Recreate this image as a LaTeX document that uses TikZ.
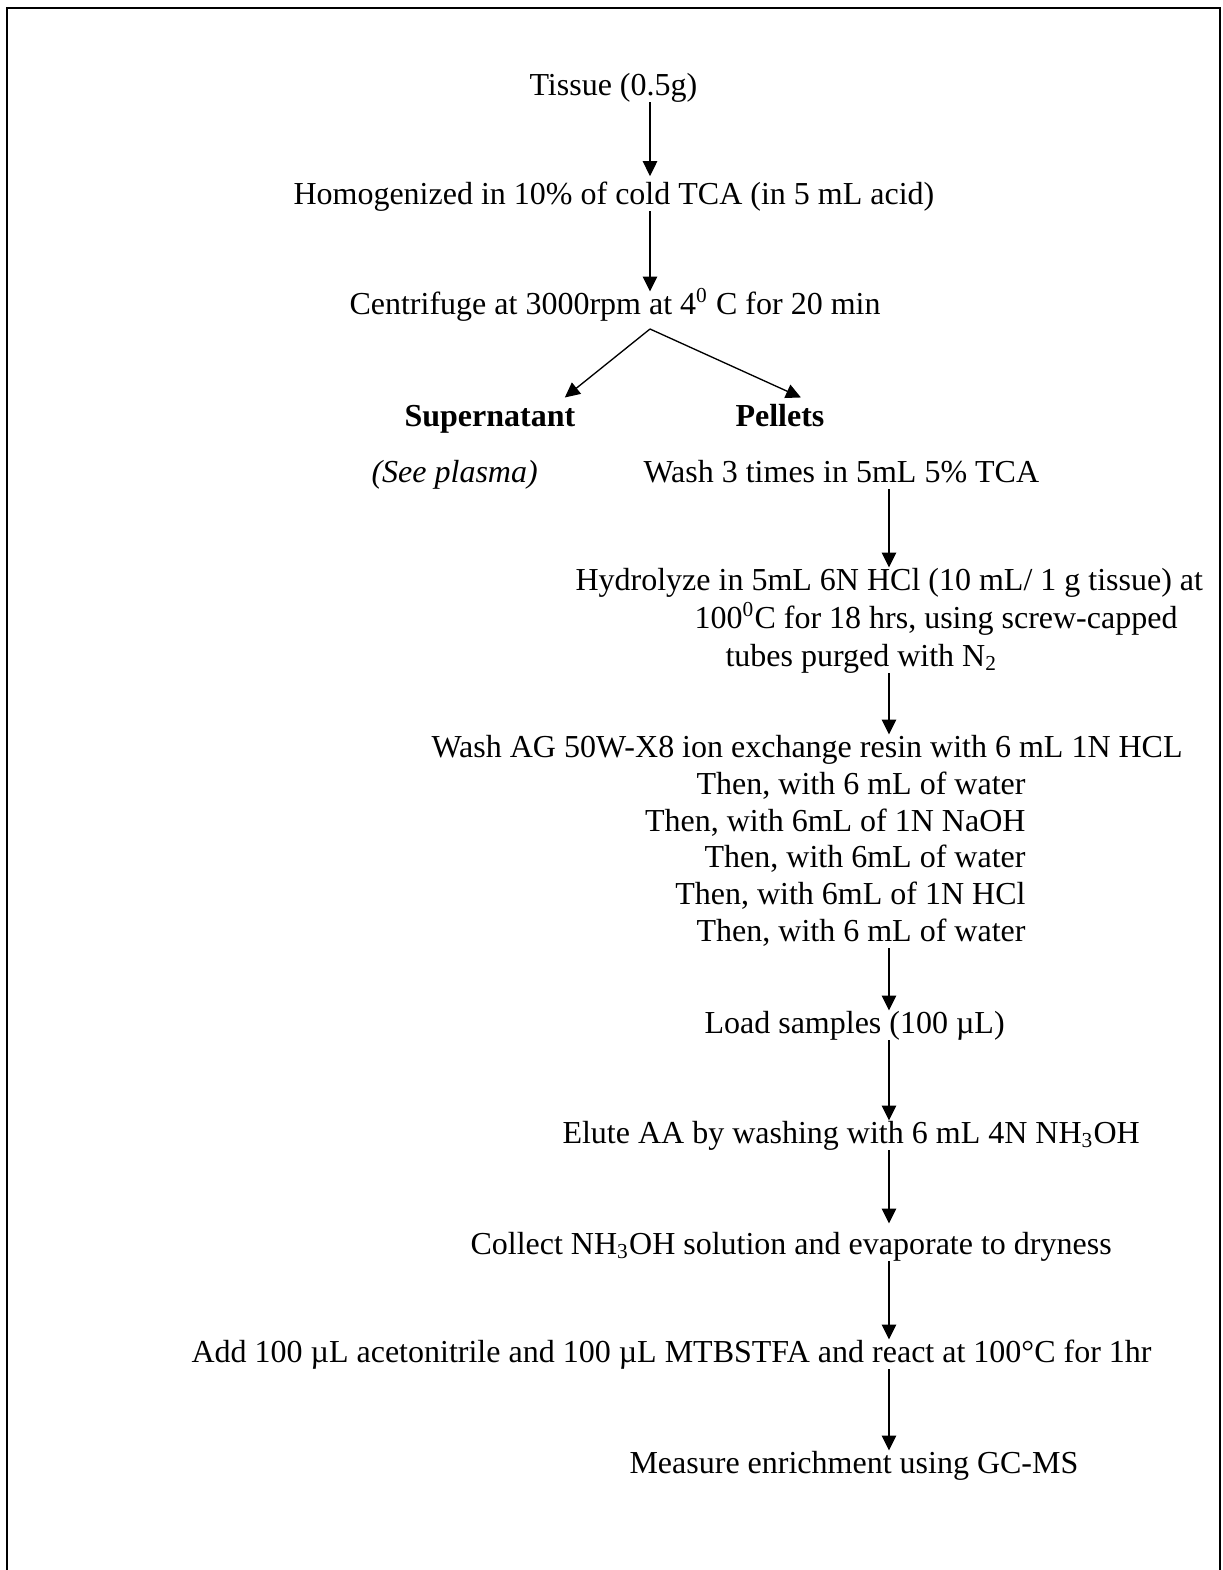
\documentclass[tikz,border=0pt]{standalone}
\usepackage{fontspec}
\setmainfont{Liberation Serif}
\usetikzlibrary{arrows.meta}

\begin{document}
\begin{tikzpicture}[x=0.375pt, y=-0.375pt, >={Triangle[length=5.6pt, width=5.4pt]},
    lbl/.style={anchor=base west, inner sep=0pt, text height=8.25pt, text depth=2.6pt, font=\fontsize{12}{13.8}\selectfont},
    rlbl/.style={lbl, anchor=base east},
    arr/.style={->, line width=0.5pt}]
    \useasboundingbox (0,0) rectangle (1222,1570);
    \draw[line width=1pt] (7,1580) -- (7,8) -- (1220,8) -- (1220,1580);

    % arrow columns
    \coordinate (c1) at (650,0);
    \coordinate (c2) at (889,0);

    \node[lbl] (tissue) at (529,95) {Tissue (0.5g)};
    \node[lbl] (homog) at (293,204) {Homogenized in 10\% of cold TCA (in 5 mL acid)};
    \node[lbl] (centr) at (349,314) {Centrifuge at 3000rpm at 4\textsuperscript{0} C for 20 min};
    \coordinate (split) at (650,329);

    \node[lbl] (super) at (404,426) {\textbf{Supernatant}};
    \node[lbl] (pell) at (735,426) {\textbf{Pellets}};
    \node[lbl] (plasma) at (371,482) {\textit{(See plasma)}};
    \node[lbl] (wash) at (643,482) {Wash 3 times in 5mL 5\% TCA};

    \node[lbl] (hydro1) at (575,590) {Hydrolyze in 5mL 6N HCl (10 mL/ 1 g tissue) at};
    \node[lbl] (hydro2) at (694,628) {100\textsuperscript{0}C for 18 hrs, using screw-capped};
    \node[lbl] (hydro3) at (725,666) {tubes purged with N\textsubscript{2}};

    \node[lbl] (resin) at (431,757) {Wash AG 50W-X8 ion exchange resin with 6 mL 1N HCL};
    \foreach \y/\t [count=\i] in {794/{Then, with 6 mL of water}, 831/{Then, with 6mL of 1N NaOH},
        867/{Then, with 6mL of water}, 904/{Then, with 6mL of 1N HCl}, 941/{Then, with 6 mL of water}}
        \node[rlbl] (then\i) at (1026,\y) {\t};

    \node[lbl] (load) at (704,1033) {Load samples (100 µL)};
    \node[lbl] (elute) at (562,1143) {Elute AA by washing with 6 mL 4N NH\textsubscript{3}OH};
    \node[lbl] (collect) at (470,1254) {Collect NH\textsubscript{3}OH solution and evaporate to dryness};
    \node[lbl] (add) at (191,1362) {Add 100 µL acetonitrile and 100 µL MTBSTFA and react at 100°C for 1hr};
    \node[lbl] (measure) at (629,1473) {Measure enrichment using GC-MS};

    % connectors
    \draw[arr] (tissue.south -| c1) -- ([yshift=2pt]homog.north -| c1);
    \draw[arr] (homog.south -| c1) -- (centr.north -| c1);
    \draw[arr] (split) -- ([xshift=-4.1pt, yshift=2.25pt]super.north east);
    \draw[arr] (split) -- ([xshift=-9pt, yshift=2.25pt]pell.north east);
    \draw[arr] (wash.south -| c2) -- (hydro1.north -| c2);
    \draw[arr] (hydro3.south -| c2) -- (resin.north -| c2);
    \draw[arr] (then5.south -| c2) -- (load.north -| c2);
    \draw[arr] (load.south -| c2) -- (elute.north -| c2);
    \draw[arr] (elute.south -| c2) -- ([yshift=3pt]collect.north -| c2);
    \draw[arr] (collect.south -| c2) -- (add.north -| c2);
    \draw[arr] (add.south -| c2) -- (measure.north -| c2);
\end{tikzpicture}
\end{document}
